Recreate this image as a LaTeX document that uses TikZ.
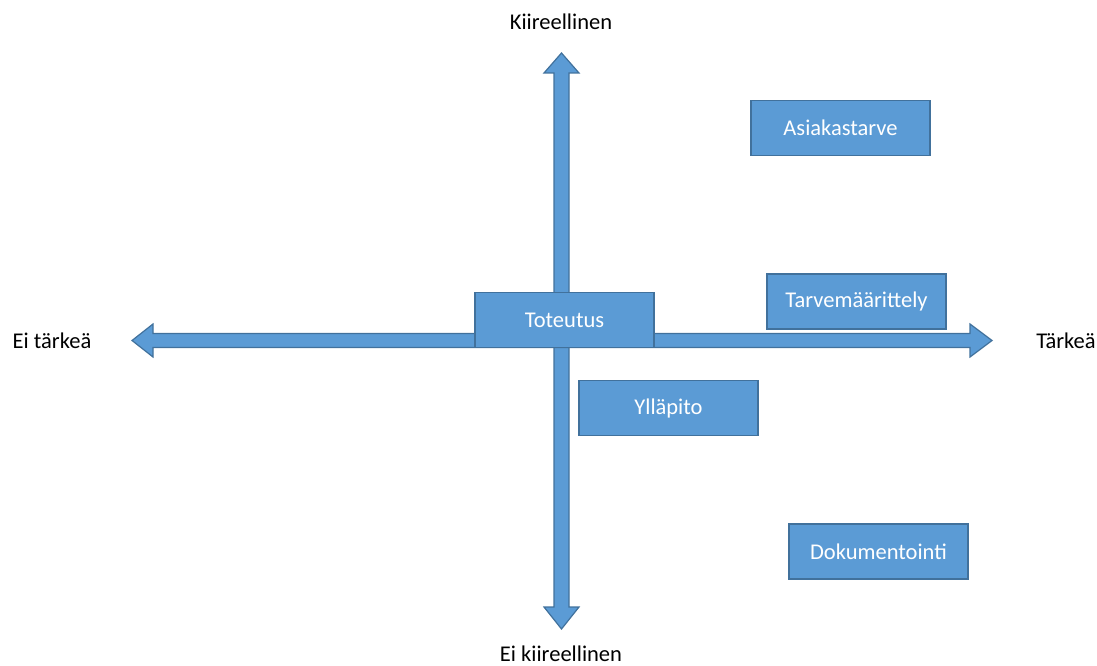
\documentclass[tikz,border=0pt]{standalone}
\usepackage{fontspec}
\setmainfont{Carlito}
\definecolor{boxfill}{HTML}{5B9BD5}
\definecolor{boxline}{HTML}{41719C}
\begin{document}
\begin{tikzpicture}[x=1pt,y=-1pt,
  axis/.style={fill=boxfill,draw=boxline,line width=1.2pt,line join=miter},
  item/.style={fill=boxfill,draw=boxline,line width=1.2pt,minimum width=179pt,minimum height=55pt,
    text=white,font=\fontsize{22.5}{26}\selectfont,inner sep=0pt},
  axislabel/.style={text=black,font=\fontsize{22.5}{26}\selectfont,inner sep=0pt}]
\useasboundingbox (0,0) rectangle (1097,666);
% centre of the axes
\coordinate (o) at (561.5,340.5);
% vertical axis: double-headed block arrow
\draw[axis] (554,73) -- (544,73) -- (561.5,53) -- (579,73) -- (569,73)
  -- (569,607) -- (579,607) -- (561.5,629) -- (544,607) -- (554,607) -- cycle;
% horizontal axis: double-headed block arrow
\draw[axis] (153,333.5) -- (153,324) -- (132,340.5) -- (153,357) -- (153,347.5)
  -- (970,347.5) -- (970,357) -- (992,340.5) -- (970,324) -- (970,333.5) -- cycle;
% axis labels
\node[axislabel] (up) at (561,22) {Kiireellinen};
\node[axislabel] (down) at (561,654) {Ei kiireellinen};
\node[axislabel] (left) at (52,341) {Ei tärkeä};
\node[axislabel] (right) at (1066,341) {Tärkeä};
% tasks placed on the matrix
\node[item] (toteutus) at (564.5,320) {Toteutus};
\node[item] (asiakas) at (840.5,128) {Asiakastarve};
\node[item] (tarve) at (856.5,301.5) {Tarvemäärittely};
\node[item] (yllapito) at (668.5,408) {Ylläpito};
\node[item] (dokum) at (878.5,551.5) {Dokumentointi};
\end{tikzpicture}
\end{document}
